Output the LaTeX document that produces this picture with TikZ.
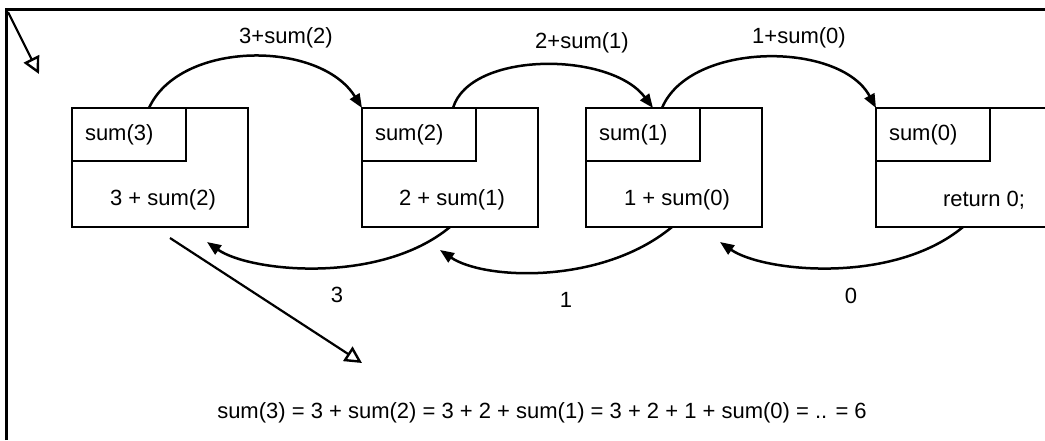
\documentclass[tikz,border=0pt]{standalone}
\usepackage{fontspec}
\setmainfont{Liberation Sans}
\usetikzlibrary{arrows.meta}
\begin{document}
\begin{tikzpicture}[x=1pt,y=-1pt,
  box/.style={draw, line width=2.5pt, minimum width=176pt, minimum height=119pt, anchor=north west, outer sep=0pt, inner sep=0pt},
  titlebox/.style={draw, line width=2.5pt, minimum width=114pt, minimum height=53pt, anchor=north west, outer sep=0pt, inner xsep=13pt, inner ysep=0pt, text width=88pt, align=left, font=\fontsize{22pt}{26pt}\selectfont},
  txt/.style={font=\fontsize{22pt}{26pt}\selectfont, inner sep=0pt},
  conn/.style={line width=2.5pt, -{Triangle[length=14pt,width=11pt]}},
  openarr/.style={line width=2.2pt, -{Triangle[open,length=17pt,width=17pt,line width=2.4pt]}},
]
\useasboundingbox (0,0) rectangle (1045,440);
\clip (0,0) rectangle (1045,440);
\fill[white] (0,0) rectangle (1045,440);
% frame
\draw[line width=3pt] (6,440) -- (6,9) -- (1045,9);
% boxes
\node[box] (b1) at (72,108) {};
\node[box] (b2) at (362,108) {};
\node[box] (b3) at (586,108) {};
\node[box] (b4) at (876,108) {};
\node[titlebox] (h1) at (b1.north west) {sum(3)};
\node[titlebox] (h2) at (b2.north west) {sum(2)};
\node[titlebox] (h3) at (b3.north west) {sum(1)};
\node[titlebox] (h4) at (b4.north west) {sum(0)};
\node[txt] (t1) at (163,200) {3 + sum(2)};
\node[txt] (t2) at (452,200) {2 + sum(1)};
\node[txt] (t3) at (677,200) {1 + sum(0)};
\node[txt] (t4) at (984,200) {return 0;};
% calls
\draw[conn] ([xshift=77pt]b1.north west) .. controls (180,40) and (320,40) .. (b2.north west);
\draw[conn] ([xshift=91pt]b2.north west) .. controls (470,51) and (610,51) .. ([xshift=67pt]b3.north west);
\draw[conn] ([xshift=76pt]b3.north west) .. controls (690,41) and (840,41) .. (b4.north west);
\node[txt] (l1) at (286,38) {3+sum(2)};
\node[txt] (l2) at (582,43) {2+sum(1)};
\node[txt] (l3) at (799,38) {1+sum(0)};
% returns
\draw[conn] ([xshift=88pt]b2.south west) .. controls (380,285) and (250,272) .. ([xshift=135pt,yshift=-15pt]b1.south west);
\draw[conn] ([xshift=86pt]b3.south west) .. controls (602,285) and (484,280) .. ([xshift=78pt,yshift=-23pt]b2.south west);
\draw[conn] ([xshift=87pt]b4.south west) .. controls (893,285) and (763,272) .. ([xshift=134pt,yshift=-15pt]b3.south west);
\node[txt] (r1) at (337,295) {3};
\node[txt] (r2) at (566,300) {1};
\node[txt] (r3) at (851,296) {0};
% open arrows
\coordinate (d1) at (362,363);
\draw[openarr] ([xshift=98pt,yshift=-11pt]b1.south west) -- (d1);
\coordinate (c1) at (8,12);
\coordinate (c2) at (39,74);
\draw[openarr] (c1) -- (c2);
% equation
\node[txt] (eq) at (542,413) {sum(3) = 3 + sum(2) = 3 + 2 + sum(1) = 3 + 2 + 1 + sum(0) = .. = 6};
\end{tikzpicture}
\end{document}
